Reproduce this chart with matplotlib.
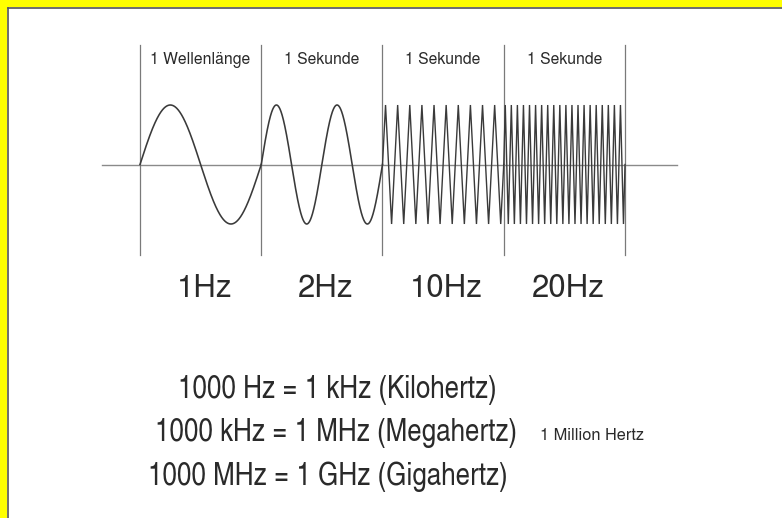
import numpy as np
import matplotlib
matplotlib.use("Agg")
import matplotlib.pyplot as plt
import matplotlib.font_manager as fm
from matplotlib.patches import Rectangle
from matplotlib.lines import Line2D

# ---- data ----
frequencies = [1, 2, 10, 20]                      # Hz, one segment (1 s) each
freq_labels = ["1Hz", "2Hz", "10Hz", "20Hz"]
segment_labels = ["1 Wellenlänge", "1 Sekunde", "1 Sekunde", "1 Sekunde"]
unit_lines = ["1000 Hz = 1 kHz (Kilohertz)",
              "1000 kHz = 1 MHz (Megahertz)",
              "1000 MHz = 1 GHz (Gigahertz)"]
side_note = "1 Million Hertz"

# ---- fonts ----
names = {f.name for f in fm.fontManager.ttflist}
def pick(cands, default="Liberation Sans"):
    for c in cands:
        if c in names:
            return c
    return default
base_font = pick(["TeX Gyre Heros", "Liberation Sans"])
narrow_font = pick(["TeX Gyre Heros Cn", "Liberation Sans Narrow", "Roboto Condensed"], base_font)

W, H = 782, 518
fig = plt.figure(figsize=(W / 100, H / 100), dpi=100)
fig.patch.set_facecolor("white")

# axes in "seconds" / amplitude units, positioned so that x=0..4 spans px 140..625
px_per_s = (625 - 140) / 4.0
px_per_amp = 59.5
x0_px, y0_px = 140, 164.5  # origin in image pixel coords (from top)
ax = fig.add_axes([0, 0, 1, 1])
ax.set_xlim(-x0_px / px_per_s, (W - x0_px) / px_per_s)
ax.set_ylim(-(H - y0_px) / px_per_amp, y0_px / px_per_amp)
ax.axis("off")

def ypx(p):  # pixel row (from top) -> amplitude units
    return (y0_px - p) / px_per_amp

def xpx(p):
    return (p - x0_px) / px_per_s

n_seg = len(frequencies)
# horizontal axis
ax.plot([xpx(102), xpx(677)], [0, 0], color="#8a8a8a", lw=1.0, zorder=1)
# vertical separators
for i in range(n_seg + 1):
    ax.plot([i, i], [ypx(45), ypx(255)], color="#7a7a7a", lw=0.9, zorder=1)

# waves: low frequencies drawn smooth, high frequencies as zigzag (sampled at quarter periods)
for i, f in enumerate(frequencies):
    if f <= 2:
        t = np.linspace(0, 1, 2000)
        lw = 1.15
    else:
        t = np.linspace(0, 1, 4 * f + 1)
        lw = 1.0
    y = np.sin(2 * np.pi * f * t)
    ax.plot(i + t, y, color="#3a3a3a", lw=lw, zorder=2, solid_joinstyle="miter")

tc = "#2a2a2a"
for i, lab in enumerate(segment_labels):
    ax.text(i + 0.5, ypx(64), lab, ha="center", va="baseline",
            fontsize=11.3, family=base_font, color=tc)

for i, lab in enumerate(freq_labels):
    ax.text(i + 0.53, ypx(297), lab, ha="center", va="baseline",
            fontsize=22.5, family=base_font, color=tc)

row_left = [178, 155, 148]
row_base = [398, 441, 485]
row_texts = []
for s, xl, yb in zip(unit_lines, row_left, row_base):
    row_texts.append(fig.text(xl / W, 1 - yb / H, s, ha="left", va="baseline",
                              fontsize=22, family=narrow_font, color=tc))

# fit the font size so that the rows together span their widths in the reference
renderer = fig.canvas.get_renderer()
w_sum = sum(t.get_window_extent(renderer).width for t in row_texts)
fs = min(22 * (313.0 + 367.0 + 362.0) / w_sum, 24)
for t in row_texts:
    t.set_fontsize(fs)

fig.text(540 / W, 1 - 440 / H, side_note, ha="left", va="baseline",
         fontsize=11.8, family=base_font, color=tc)

# yellow frame (top and left)
fig.patches.append(Rectangle((0, 1 - 7 / H), 1, 7 / H, transform=fig.transFigure,
                             facecolor="#ffff00", edgecolor="none", zorder=5))
fig.patches.append(Rectangle((0, 0), 7 / W, 1, transform=fig.transFigure,
                             facecolor="#ffff00", edgecolor="none", zorder=5))
fig.lines.append(Line2D([7.5 / W, 1], [1 - 7.5 / H, 1 - 7.5 / H], transform=fig.transFigure,
                        color="#555555", lw=1.2, zorder=6))
fig.lines.append(Line2D([7.5 / W, 7.5 / W], [0, 1 - 7.5 / H], transform=fig.transFigure,
                        color="#555555", lw=1.2, zorder=6))

fig.savefig("out.png", dpi=100)
